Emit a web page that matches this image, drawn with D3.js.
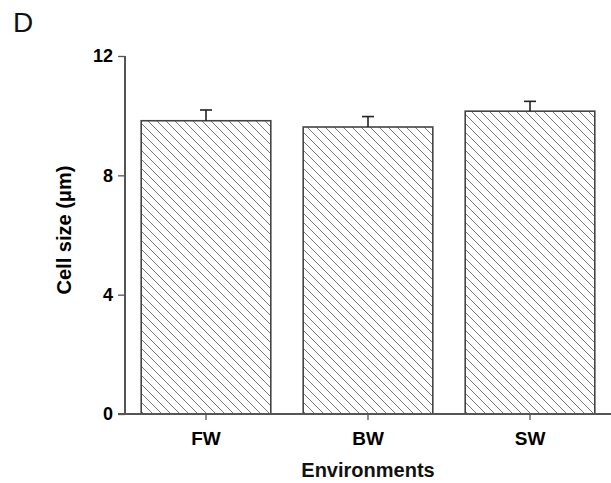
<!DOCTYPE html>
<html><head><meta charset="utf-8">
<script src="https://cdn.jsdelivr.net/npm/d3@7"></script>
<style>body{margin:0;background:#fff}svg{display:block}</style>
</head><body>
<script>
const categories = ["FW", "BW", "SW"];
const means = [9.83, 9.62, 10.15];
const errors = [0.36, 0.35, 0.33];
const yTicks = [0, 4, 8, 12];

const W = 611, H = 483;
const svg = d3.select("body").append("svg").attr("width", W).attr("height", H);
const font = "'Liberation Sans', Arial, sans-serif";

const hs = 9;
const defs = svg.append("defs");
const pat = defs.append("pattern").attr("id", "hatch")
  .attr("patternUnits", "userSpaceOnUse").attr("width", hs).attr("height", hs);
pat.append("path").attr("d", `M-2,-2 L${hs+2},${hs+2} M-2,${hs-2} L2,${hs+2} M${hs-2},-2 L${hs+2},2`)
  .attr("stroke", "#777").attr("stroke-width", 1).attr("fill", "none");

const x = d3.scaleBand().domain(categories).range([125, 611]).paddingInner(0.2).paddingOuter(0.1);
const y = d3.scaleLinear().domain([0, 12]).range([414, 56]);

// bars
svg.selectAll("rect.bar").data(categories).enter().append("rect")
  .attr("x", d => x(d)).attr("y", (d, i) => y(means[i]))
  .attr("width", x.bandwidth()).attr("height", (d, i) => y(0) - y(means[i]))
  .attr("fill", "url(#hatch)").attr("stroke", "#444").attr("stroke-width", 1.6);

// error bars
const eg = svg.append("g").attr("stroke", "#222").attr("stroke-width", 1.6);
categories.forEach((c, i) => {
  const cx = x(c) + x.bandwidth() / 2;
  eg.append("line").attr("x1", cx).attr("x2", cx).attr("y1", y(means[i])).attr("y2", y(means[i] + errors[i]));
  eg.append("line").attr("x1", cx - 6).attr("x2", cx + 6).attr("y1", y(means[i] + errors[i])).attr("y2", y(means[i] + errors[i]));
});

// y axis
const ya = svg.append("g").attr("transform", "translate(125,0)")
  .call(d3.axisLeft(y).tickValues(yTicks).tickSize(7).tickPadding(5));
ya.select(".domain").attr("stroke", "#555").attr("stroke-width", 2).attr("d", "M0,56V414");
ya.selectAll(".tick line").attr("stroke", "#555").attr("stroke-width", 1.3);
ya.selectAll(".tick text").attr("font-family", font).attr("font-weight", "bold").attr("font-size", 18).attr("fill", "#000");

// x axis
const xa = svg.append("g").attr("transform", "translate(0,414)")
  .call(d3.axisBottom(x).tickSize(6).tickPadding(12));
xa.select(".domain").attr("stroke", "#555").attr("stroke-width", 2).attr("d", "M118,0H611");
xa.selectAll(".tick line").attr("stroke", "#555").attr("stroke-width", 1.3);
xa.selectAll(".tick text").attr("font-family", font).attr("font-weight", "bold").attr("font-size", 19).attr("fill", "#000");

// labels
svg.append("text").attr("x", 368).attr("y", 477).attr("text-anchor", "middle")
  .attr("font-family", font).attr("font-weight", "bold").attr("font-size", 20).attr("fill", "#111").text("Environments");
svg.append("text").attr("transform", "translate(71,230) rotate(-90)").attr("text-anchor", "middle")
  .attr("font-family", font).attr("font-weight", "bold").attr("font-size", 20).attr("fill", "#000").text("Cell size (μm)");
svg.append("text").attr("x", 13).attr("y", 32)
  .attr("font-family", font).attr("font-size", 28).attr("fill", "#111").text("D");
</script>
</body></html>
